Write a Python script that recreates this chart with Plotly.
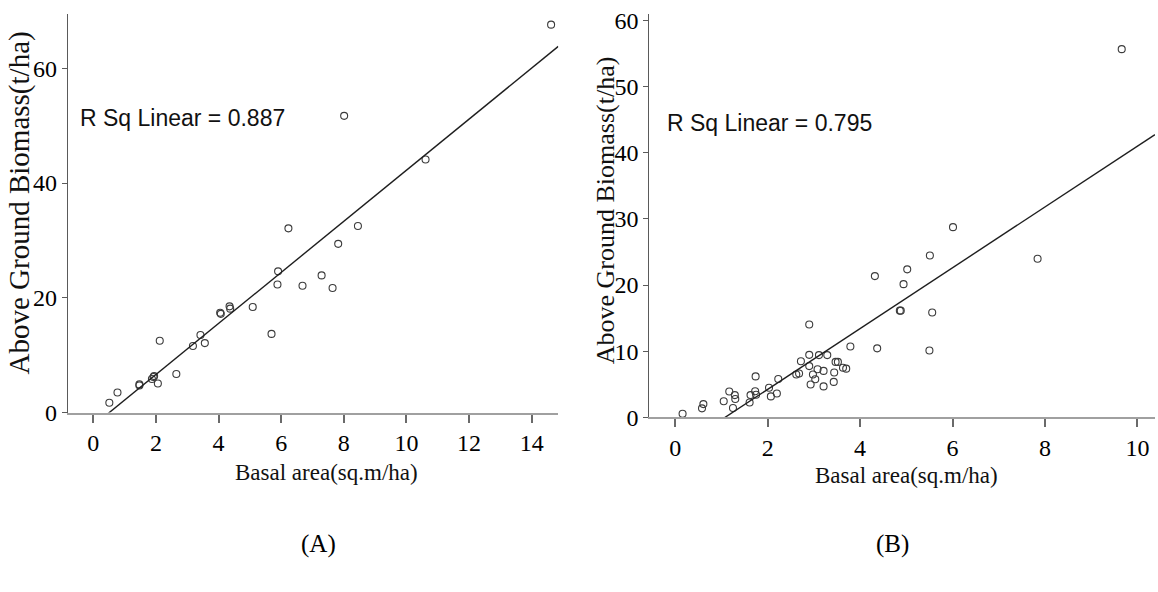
import numpy as np
import plotly.graph_objects as go

W, H = 1158, 592

# ---------------- data ----------------
a_basal = [0.51, 0.77, 1.47, 1.47, 1.87, 1.92, 1.94, 2.06, 2.12, 2.65,
           3.18, 3.42, 3.56, 4.05, 4.07, 4.35, 4.37, 5.09, 5.69, 5.88,
           5.90, 6.23, 6.68, 7.29, 7.64, 7.82, 8.01, 8.45, 10.61, 14.62]
a_agb = [1.7, 3.5, 4.7, 4.9, 5.85, 6.2, 6.35, 5.06, 12.5, 6.7,
         11.6, 13.5, 12.1, 17.4, 17.2, 18.5, 18.1, 18.4, 13.7, 22.3,
         24.6, 32.1, 22.1, 23.9, 21.7, 29.4, 51.7, 32.5, 44.1, 67.6]

b_basal = [0.16, 0.58, 0.61, 1.05, 1.17, 1.29, 1.30, 1.25, 1.61, 1.63,
           1.74, 1.73, 1.75, 2.03, 2.07, 2.20, 2.23, 2.62, 2.68, 2.72,
           2.90, 2.90, 2.90, 2.93, 2.98, 3.03, 3.08, 3.11, 3.21, 3.21,
           3.29, 3.44, 3.43, 3.47, 3.52, 3.63, 3.70, 3.79, 4.37, 4.32,
           4.86, 4.88, 4.94, 5.02, 5.51, 5.56, 5.50, 6.01, 7.84, 9.66]
b_agb = [0.54, 1.36, 2.0, 2.44, 3.9, 3.36, 2.78, 1.41, 2.24, 3.36,
         6.19, 3.95, 3.41, 4.48, 3.17, 3.61, 5.8, 6.48, 6.63, 8.48,
         14.04, 9.45, 7.75, 4.97, 6.48, 5.75, 7.26, 9.41, 7.02, 4.68,
         9.41, 6.77, 5.36, 8.38, 8.38, 7.5, 7.36, 10.72, 10.43, 21.35,
         16.13, 16.13, 20.13, 22.37, 24.46, 15.84, 10.1, 28.75, 23.98, 55.65]

# fit lines as drawn (slope, intercept)
a_fit = (4.45, -2.27)
b_fit = (4.595, -4.96)

a_r2_text = "R Sq Linear = 0.887"
b_r2_text = "R Sq Linear = 0.795"

a_xticks = [0, 2, 4, 6, 8, 10, 12, 14]
a_yticks = [0, 20, 40, 60]
b_xticks = [0, 2, 4, 6, 8, 10]
b_yticks = [0, 10, 20, 30, 40, 50, 60]

x_title = "Basal area(sq.m/ha)"
y_title = "Above Ground Biomass(t/ha)"
panel_labels = ["(A)", "(B)"]

# ---------------- layout helpers ----------------
def px(x):
    return x / W

def py(y):
    return 1 - y / H

a_xrange = [-0.82, 14.85]
a_yrange = [0, 69.5]
b_xrange = [-0.56, 10.38]
b_yrange = [0, 61.0]

fig = go.Figure()

marker = dict(symbol="circle-open", size=7, color="#3c3c3c", line=dict(width=1.1))

fig.add_trace(go.Scatter(x=a_basal, y=a_agb, mode="markers", marker=marker,
                         xaxis="x", yaxis="y", showlegend=False))
fig.add_trace(go.Scatter(x=b_basal, y=b_agb, mode="markers", marker=marker,
                         xaxis="x2", yaxis="y2", showlegend=False))

ax = np.array(a_xrange)
fig.add_trace(go.Scatter(x=ax, y=a_fit[0] * ax + a_fit[1], mode="lines",
                         line=dict(color="#1e1e1e", width=1.4),
                         xaxis="x", yaxis="y", showlegend=False))
bx = np.array(b_xrange)
fig.add_trace(go.Scatter(x=bx, y=b_fit[0] * bx + b_fit[1], mode="lines",
                         line=dict(color="#1e1e1e", width=1.4),
                         xaxis="x2", yaxis="y2", showlegend=False))

tick_font = dict(family="Liberation Serif, Times New Roman, serif", size=24, color="#000")

def xaxis_cfg(dom, rng, ticks, anchor):
    return dict(domain=dom, range=rng, tickvals=ticks, ticktext=[str(t) for t in ticks],
                showgrid=False, zeroline=False, showline=True, linecolor="#a0a0a0",
                linewidth=2, ticks="outside", ticklen=8, tickwidth=1.5, tickcolor="#6a6a6a",
                tickfont=tick_font, anchor=anchor, fixedrange=True)

def yaxis_cfg(dom, rng, ticks, anchor):
    return dict(domain=dom, range=rng, tickvals=ticks, ticktext=[str(t) for t in ticks],
                showgrid=False, zeroline=False, showline=True, linecolor="#5a5a5a",
                linewidth=1, ticks="outside", ticklen=5, tickwidth=1, tickcolor="#5a5a5a",
                tickfont=tick_font, anchor=anchor, fixedrange=True)

fig.update_layout(
    width=W, height=H,
    margin=dict(l=0, r=0, t=0, b=0),
    paper_bgcolor="white", plot_bgcolor="white",
    xaxis=xaxis_cfg([px(67.7), px(558.3)], a_xrange, a_xticks, "y"),
    yaxis=yaxis_cfg([py(420), py(8)], a_yrange, a_yticks, "x"),
    xaxis2=xaxis_cfg([px(649.3), px(1155)], b_xrange, b_xticks, "y2"),
    yaxis2=yaxis_cfg([py(425), py(8)], b_yrange, b_yticks, "x2"),
)

serif = "Liberation Serif, Times New Roman, serif"
sans = "Liberation Sans, Arial, sans-serif"
ann = []
# R-squared labels
ann.append(dict(x=px(78), y=py(116), xref="paper", yref="paper", text=a_r2_text,
                showarrow=False, xanchor="left", yanchor="middle",
                font=dict(family=sans, size=23, color="#111")))
ann.append(dict(x=px(665), y=py(121), xref="paper", yref="paper", text=b_r2_text,
                showarrow=False, xanchor="left", yanchor="middle",
                font=dict(family=sans, size=23, color="#111")))
# y titles
ann.append(dict(x=px(19), y=py(204), xref="paper", yref="paper", text=y_title,
                textangle=-90, showarrow=False, xanchor="center", yanchor="middle",
                font=dict(family=serif, size=29, color="#111")))
ann.append(dict(x=px(605), y=py(211), xref="paper", yref="paper", text=y_title,
                textangle=-90, showarrow=False, xanchor="center", yanchor="middle",
                font=dict(family=serif, size=26, color="#111")))
# x titles
ann.append(dict(x=px(326), y=py(482), xref="paper", yref="paper", text=x_title,
                showarrow=False, xanchor="center", yanchor="middle",
                font=dict(family=serif, size=23, color="#111")))
ann.append(dict(x=px(906), y=py(485), xref="paper", yref="paper", text=x_title,
                showarrow=False, xanchor="center", yanchor="middle",
                font=dict(family=serif, size=23, color="#111")))
# panel labels
ann.append(dict(x=px(318), y=py(556), xref="paper", yref="paper", text=panel_labels[0],
                showarrow=False, xanchor="center", yanchor="middle",
                font=dict(family=serif, size=25, color="#000")))
ann.append(dict(x=px(892), y=py(556), xref="paper", yref="paper", text=panel_labels[1],
                showarrow=False, xanchor="center", yanchor="middle",
                font=dict(family=serif, size=25, color="#000")))
fig.update_layout(annotations=ann)

fig.write_html("out.html")
